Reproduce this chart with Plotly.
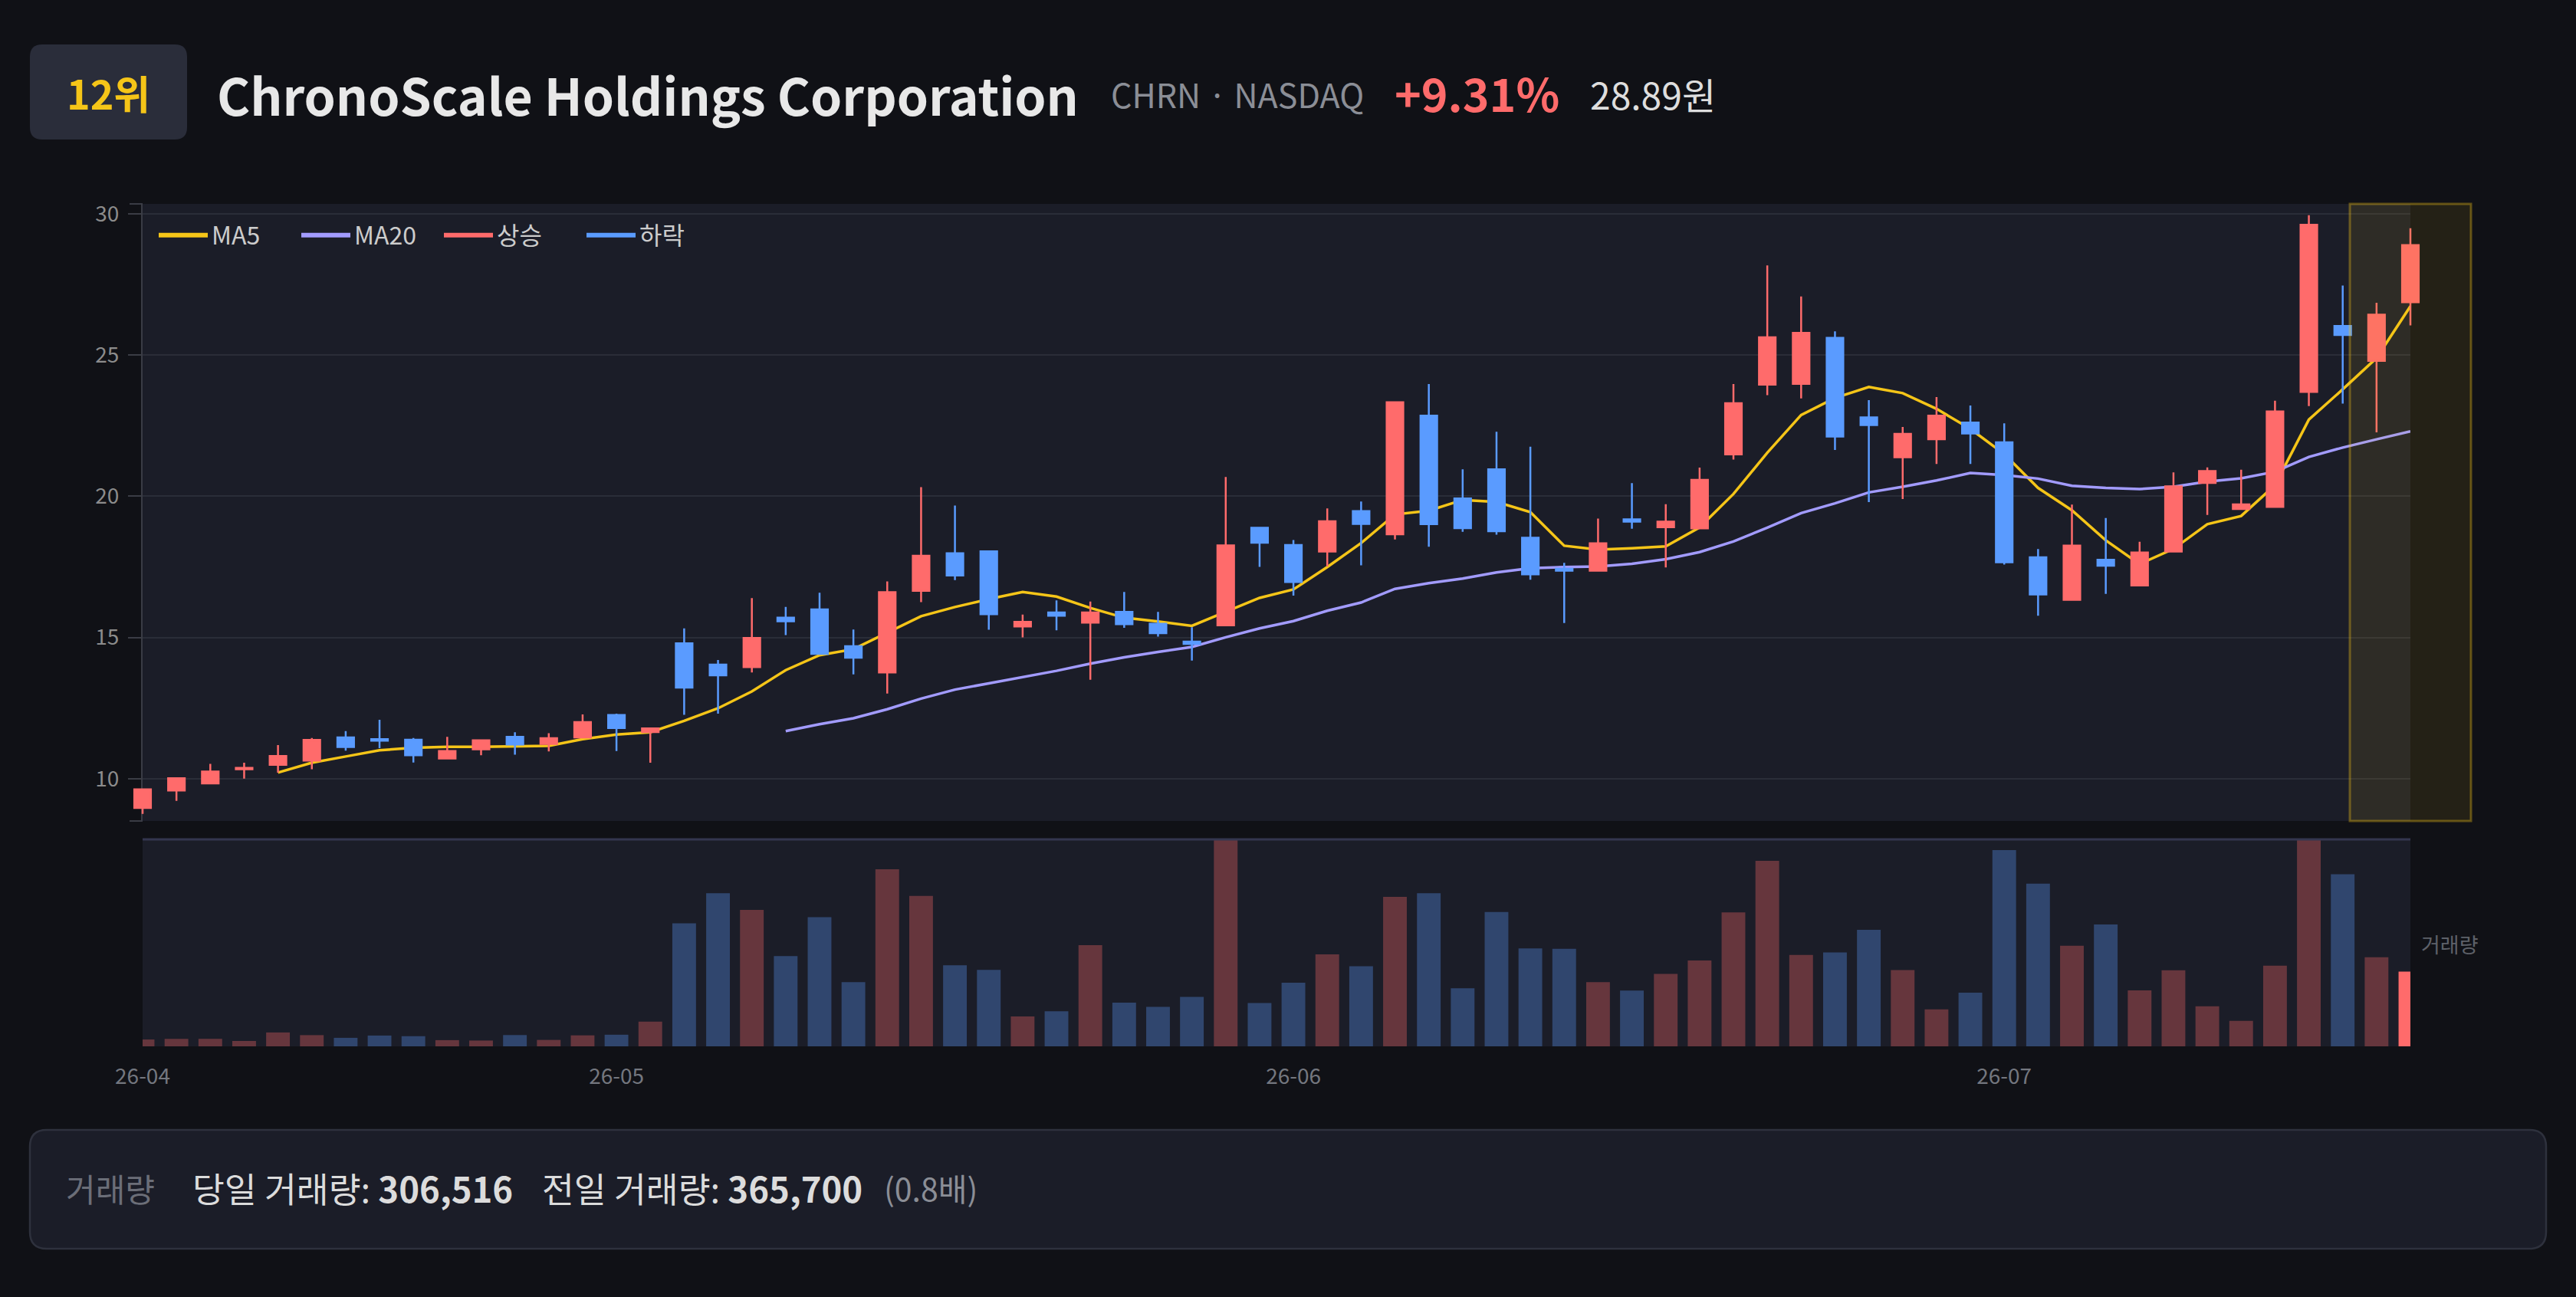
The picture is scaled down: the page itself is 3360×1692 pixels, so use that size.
"""
Stock card chart - candles, moving averages and volume (Plotly)
"""
import pandas as pd
import plotly.graph_objects as go

# ---- data -----------------------------------------------------------------
HOLIDAYS = ["2026-05-25", "2026-06-19", "2026-07-03"]
dates = pd.bdate_range("2026-04-13", "2026-07-20", freq="C", holidays=HOLIDAYS)
date_labels = [d.strftime("%Y-%m-%d") for d in dates]

open_ = [8.96, 9.58, 9.83, 10.33, 10.49, 10.64, 11.46, 11.40, 11.38, 10.71,
         11.04, 11.48, 11.23, 11.46, 12.25, 11.65, 14.79, 14.04, 13.95, 15.70,
         15.99, 14.69, 13.76, 16.65, 17.98, 18.05, 15.39, 15.88, 15.52, 15.90,
         15.48, 14.85, 15.43, 18.88, 18.27, 18.04, 19.47, 18.65, 22.85, 19.92,
         20.95, 18.53, 17.43, 17.36, 19.18, 18.90, 18.86, 21.48, 23.95, 23.98,
         25.61, 22.79, 21.38, 22.02, 22.61, 21.91, 17.84, 16.33, 17.75, 16.84,
         18.04, 20.47, 19.55, 19.62, 23.69, 26.03, 24.79, 26.87]
high = [9.65, 10.02, 10.52, 10.56, 11.19, 11.44, 11.68, 12.08, 11.44, 11.48,
        11.38, 11.64, 11.61, 12.27, 12.30, 11.80, 15.32, 14.20, 16.39, 16.08,
        16.58, 15.28, 16.98, 20.32, 19.67, 18.06, 15.81, 16.31, 16.27, 16.61,
        15.90, 15.36, 20.68, 18.90, 18.45, 19.57, 19.81, 23.35, 23.97, 20.95,
        22.28, 21.75, 17.64, 19.21, 20.46, 19.72, 21.01, 23.97, 28.17, 27.07,
        25.84, 23.40, 22.45, 23.51, 23.21, 22.58, 18.13, 19.70, 19.23, 18.39,
        20.84, 21.02, 20.94, 23.38, 29.95, 27.46, 26.85, 29.49]
low = [8.75, 9.21, 9.82, 10.00, 10.21, 10.33, 10.99, 11.08, 10.57, 10.70,
       10.83, 10.85, 10.96, 11.45, 10.98, 10.56, 12.26, 12.30, 13.76, 15.08,
       14.40, 13.69, 13.01, 16.25, 17.03, 15.27, 15.00, 15.25, 13.50, 15.34,
       15.03, 14.18, 15.40, 17.50, 16.48, 17.51, 17.55, 18.47, 18.21, 18.74,
       18.64, 17.04, 15.51, 17.35, 18.85, 17.48, 18.85, 21.30, 23.58, 23.46,
       21.64, 19.79, 19.90, 21.14, 21.14, 17.58, 15.77, 16.32, 16.54, 16.83,
       18.03, 19.34, 19.54, 19.60, 23.19, 23.28, 22.26, 26.05]
close = [9.62, 10.01, 10.25, 10.38, 10.80, 11.37, 11.12, 11.34, 10.83, 10.98,
         11.36, 11.21, 11.43, 12.00, 11.79, 11.78, 13.22, 13.66, 14.98, 15.57,
         14.42, 14.28, 16.60, 17.89, 17.19, 15.82, 15.55, 15.77, 15.88, 15.47,
         15.15, 14.77, 18.26, 18.35, 16.96, 19.11, 19.02, 23.33, 19.01, 18.87,
         18.76, 17.23, 17.36, 18.33, 19.10, 19.10, 20.58, 23.29, 25.63, 25.78,
         22.11, 22.52, 22.21, 22.85, 22.22, 17.66, 16.52, 18.25, 17.54, 18.01,
         20.35, 20.89, 19.71, 23.00, 29.61, 25.71, 26.43, 28.89]
volume = [28100, 30600, 30900, 22100, 57000, 46000, 34900, 44300, 41700, 25500,
          23800, 46300, 26400, 45100, 47700, 101300, 504600, 628000, 560000, 370200,
          530200, 263800, 726800, 617000, 332700, 314000, 122500, 143800, 415300, 179600,
          161700, 202500, 848000, 177900, 261300, 377800, 328500, 613600, 628400, 238300,
          551400, 401700, 400000, 263500, 228900, 297000, 352300, 549700, 760800, 375300,
          385500, 478300, 313200, 151500, 220400, 805000, 668000, 412700, 500400, 229800,
          312300, 164200, 104700, 331000, 852400, 706300, 365700, 306516]

month_ticks = ["2026-04-13", "2026-05-01", "2026-06-01", "2026-07-01"]
month_labels = ["26-04", "26-05", "26-06", "26-07"]

rank_text = "12위"
company = "ChronoScale Holdings Corporation"
ticker_text = "CHRN · NASDAQ"
change_text = "+9.31%"
price_text = "28.89원"

# ---- colours / geometry ---------------------------------------------------
UP = "#ff6b6b"
DOWN = "#5a9bff"
UP_DIM = "rgba(255,107,107,0.33)"
DOWN_DIM = "rgba(90,155,255,0.33)"
PAGE_BG = "#101116"
PLOT_BG = "#1b1d28"
GRID = "#2a2d38"
AXIS = "#3a3c45"
FONT = "Noto Sans CJK KR"

W, H = 3360, 1692
AX_L, AX_R = 186, 3144        # visible panel left / right edges (px)
OVERHANG = 16                 # end candles are drawn past the panel edges
ML, MR, MT, MB = AX_L - OVERHANG, W - AX_R - OVERHANG, 266, 327
PW, PH = W - ML - MR, H - MT - MB


def px_x(px):
    """pixel x -> paper x"""
    return (px - ML) / PW


def px_y(py):
    """pixel y (from top) -> paper y"""
    return (H - MB - py) / PH


def rounded_rect(x0, y0, x1, y1, r):
    """SVG path (paper coords) for a rounded rectangle given in pixels"""
    X0, X1 = px_x(x0), px_x(x1)
    Y0, Y1 = px_y(y0), px_y(y1)
    rx, ry = r / PW, r / PH
    return (f"M{X0 + rx},{Y0} L{X1 - rx},{Y0} Q{X1},{Y0} {X1},{Y0 - ry} "
            f"L{X1},{Y1 + ry} Q{X1},{Y1} {X1 - rx},{Y1} "
            f"L{X0 + rx},{Y1} Q{X0},{Y1} {X0},{Y1 + ry} "
            f"L{X0},{Y0 - ry} Q{X0},{Y0} {X0 + rx},{Y0} Z")


# moving averages from the closes
close_s = pd.Series(close)
ma5 = close_s.rolling(5).mean().round(3).tolist()
ma20 = close_s.rolling(20).mean().round(3).tolist()

vol_colors = [UP_DIM if c >= o else DOWN_DIM for o, c in zip(open_, close)]
vol_colors[-1] = UP

n = len(date_labels)
step_px = (AX_R - AX_L) / (n - 1)
pad = OVERHANG / step_px
x_dom = [px_x(AX_L), px_x(AX_R)]
price_dom = [px_y(1071), 1]
vol_dom = [0, px_y(1094)]
price_range = [8.5, 30.35]

fig = go.Figure()

# candles live on their own (slightly wider) axis pair so the end candles are not cut
fig.add_trace(go.Candlestick(
    x=date_labels, open=open_, high=high, low=low, close=close,
    increasing=dict(line=dict(color=UP, width=2.5), fillcolor=UP),
    decreasing=dict(line=dict(color=DOWN, width=2.5), fillcolor=DOWN),
    whiskerwidth=0, showlegend=False, xaxis="x3", yaxis="y3",
))
fig.add_trace(go.Scatter(x=date_labels, y=ma5, mode="lines", showlegend=False,
                         line=dict(color="#f5c518", width=3.5), xaxis="x", yaxis="y"))
fig.add_trace(go.Scatter(x=date_labels, y=ma20, mode="lines", showlegend=False,
                         line=dict(color="#a29bfe", width=3.5), xaxis="x", yaxis="y"))

# legend entries (line style swatches)
for name, color in [("MA5", "#f5c518"), ("MA20", "#a29bfe"), ("상승", UP), ("하락", DOWN)]:
    fig.add_trace(go.Scatter(x=[None], y=[None], mode="lines", name=name,
                             line=dict(color=color, width=6), xaxis="x", yaxis="y"))

fig.add_trace(go.Bar(x=date_labels, y=volume, marker=dict(color=vol_colors, line=dict(width=0)),
                     showlegend=False, xaxis="x2", yaxis="y2"))

shapes = [
    # panel backgrounds
    dict(type="rect", xref="paper", yref="paper", x0=x_dom[0], x1=x_dom[1],
         y0=price_dom[0], y1=price_dom[1], fillcolor=PLOT_BG, line=dict(width=0), layer="below"),
    dict(type="rect", xref="paper", yref="paper", x0=x_dom[0], x1=x_dom[1],
         y0=vol_dom[0], y1=vol_dom[1], fillcolor=PLOT_BG, line=dict(width=0), layer="below"),
    # rank badge
    dict(type="path", path=rounded_rect(39, 58, 244, 182, 16), xref="paper", yref="paper",
         fillcolor="#2a2d3a", line=dict(width=0), layer="below"),
    # footer box
    dict(type="path", path=rounded_rect(39, 1474, 3321, 1629, 22), xref="paper", yref="paper",
         fillcolor="#1b1d28", line=dict(color="#2e313d", width=2.5), layer="below"),
    # volume panel top border
    dict(type="line", xref="paper", yref="paper", x0=x_dom[0], x1=x_dom[1],
         y0=px_y(1095), y1=px_y(1095), line=dict(color="#34364f", width=3)),
    # y-axis end ticks
    dict(type="line", xref="paper", yref="paper", x0=px_x(AX_L - 17), x1=x_dom[0],
         y0=1, y1=1, line=dict(color=AXIS, width=2)),
    dict(type="line", xref="paper", yref="paper", x0=px_x(AX_L - 17), x1=x_dom[0],
         y0=price_dom[0], y1=price_dom[0], line=dict(color=AXIS, width=2)),
    # latest-session highlight
    dict(type="rect", xref="paper", yref="paper", x0=px_x(3065), x1=px_x(3223),
         y0=price_dom[0], y1=1, fillcolor="rgba(245,197,24,0.09)",
         line=dict(color="rgba(245,197,24,0.35)", width=3), layer="above"),
]

annotations = [
    dict(text=f"<b>{rank_text}</b>", x=px_x(141), y=px_y(121), xanchor="center", yanchor="middle",
         font=dict(size=52, color="#f5c518", family=FONT)),
    dict(text=f"<b>{company}</b>", x=px_x(281), y=px_y(122), xanchor="left", yanchor="middle",
         font=dict(size=66, color="#e8e8e8", family=FONT)),
    dict(text=ticker_text, x=px_x(1447), y=px_y(122), xanchor="left", yanchor="middle",
         font=dict(size=43, color="#8b8e96", family=FONT)),
    dict(text=f"<b>{change_text}</b>", x=px_x(1817), y=px_y(121), xanchor="left", yanchor="middle",
         font=dict(size=59, color=UP, family=FONT)),
    dict(text=price_text, x=px_x(2072), y=px_y(122), xanchor="left", yanchor="middle",
         font=dict(size=48, color="#dedede", family=FONT)),
    dict(text="거래량", x=px_x(3156), y=px_y(1231), xanchor="left", yanchor="middle",
         font=dict(size=27, color="#5e6169", family=FONT)),
    # footer
    dict(text="거래량", x=px_x(84), y=px_y(1549), xanchor="left", yanchor="middle",
         font=dict(size=42, color="#6b6e78", family=FONT)),
    dict(text=f"당일 거래량: <b>{volume[-1]:,}</b>", x=px_x(249), y=px_y(1549),
         xanchor="left", yanchor="middle", font=dict(size=45.5, color="#dcdcdc", family=FONT)),
    dict(text=f"전일 거래량: <b>{volume[-2]:,}</b>", x=px_x(705), y=px_y(1549),
         xanchor="left", yanchor="middle", font=dict(size=45.5, color="#dcdcdc", family=FONT)),
    dict(text=f"({volume[-1] / volume[-2]:.1f}배)", x=px_x(1151), y=px_y(1549),
         xanchor="left", yanchor="middle", font=dict(size=41, color="#8b8e96", family=FONT)),
]
for a in annotations:
    a.update(xref="paper", yref="paper", showarrow=False)

fig.update_layout(
    width=W, height=H,
    margin=dict(l=ML, r=MR, t=MT, b=MB),
    paper_bgcolor=PAGE_BG, plot_bgcolor="rgba(0,0,0,0)",
    font=dict(family=FONT, color="#8c8c8c"),
    boxgap=0.3, bargap=0.3,
    shapes=shapes, annotations=annotations,
    showlegend=True,
    legend=dict(orientation="h", x=px_x(202), y=px_y(307), xanchor="left", yanchor="middle",
                bgcolor="rgba(0,0,0,0)", font=dict(size=32, color="#cccccc", family=FONT),
                itemwidth=64, entrywidth=107, entrywidthmode="pixels"),
    xaxis=dict(type="category", domain=x_dom, anchor="y", range=[0, n - 1],
               showticklabels=False, showgrid=False, zeroline=False, showline=False,
               tickvals=month_ticks),
    yaxis=dict(domain=price_dom, range=price_range, tickvals=[10, 15, 20, 25, 30],
               showgrid=True, gridcolor=GRID, gridwidth=1.5, zeroline=False,
               showline=True, linecolor=AXIS, linewidth=2,
               ticks="outside", ticklen=17, tickwidth=2, tickcolor=AXIS,
               ticklabelstandoff=6, tickfont=dict(size=28, color="#8c8c8c")),
    xaxis2=dict(type="category", domain=x_dom, anchor="y2", matches="x",
                range=[0, n - 1], tickvals=month_ticks, ticktext=month_labels,
                ticks="outside", ticklen=14, tickcolor="rgba(0,0,0,0)",
                showgrid=False, zeroline=False, showline=False,
                tickfont=dict(size=28, color="#74777f")),
    yaxis2=dict(domain=vol_dom, range=[0, max(volume)], showticklabels=False,
                showgrid=False, zeroline=False, showline=False),
    xaxis3=dict(type="category", anchor="y3", visible=False, domain=[0, 1],
                range=[-pad, n - 1 + pad], rangeslider=dict(visible=False)),
    yaxis3=dict(anchor="x3", domain=price_dom, range=price_range, visible=False),
)

fig.write_html("out.html", config={"displayModeBar": False}, post_script=(
    "document.body.style.margin='0';"
    "document.body.style.background='" + PAGE_BG + "';"
    "document.body.style.overflow='hidden';"
))
